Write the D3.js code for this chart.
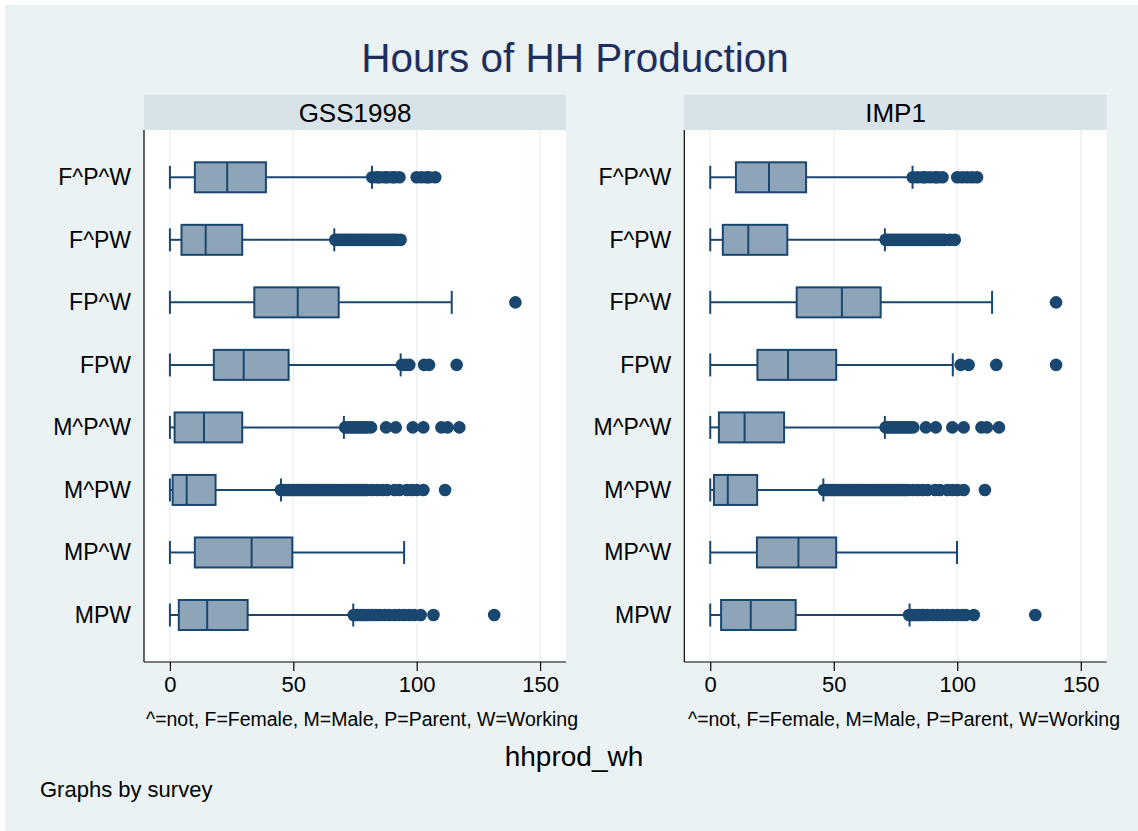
<!DOCTYPE html>
<html>
<head>
<meta charset="utf-8">
<script src="https://cdn.jsdelivr.net/npm/d3@7"></script>
<style>
  body { margin: 0; background: #ffffff; }
  text { font-family: "Liberation Sans", Arial, sans-serif; }
</style>
</head>
<body>
<div class="chart"></div>
<script>
const categories = ["F^P^W", "F^PW", "FP^W", "FPW", "M^P^W", "M^PW", "MP^W", "MPW"];
const surveys = ["GSS1998", "IMP1"];
const xTicks = [0, 50, 100, 150];

// [lower whisker, q1, median, q3, upper whisker]
const gssStats = [
  [0, 10.1, 23.2, 38.9, 81.9],
  [0, 4.7, 14.5, 29.3, 66.6],
  [0, 34.2, 51.8, 68.4, 114.2],
  [0, 17.8, 29.9, 48.1, 93.5],
  [0, 1.9, 13.8, 29.3, 70.5],
  [0, 1.1, 6.8, 18.5, 45],
  [0, 10.1, 33.1, 49.6, 94.9],
  [0, 3.6, 15.1, 31.5, 74.3]
];
const impStats = [
  [0, 10.4, 23.8, 38.8, 81.9],
  [0, 5.1, 15.4, 31.2, 70.7],
  [0, 35, 53.3, 69, 114.1],
  [0, 19.1, 31.5, 51, 98.2],
  [0, 3.5, 13.9, 29.9, 70.7],
  [0, 1.5, 7.1, 19, 45.8],
  [0, 18.9, 35.7, 51, 99.9],
  [0, 4.4, 16.4, 34.6, 80.7]
];

const gssOutliers = [
  [82, 84, 85, 87, 88, 90, 91, 93, 100, 102, 104, 105, 107.5],
  [67, 68, 69, 70, 71, 72, 73, 74, 75, 76, 77, 78, 79, 80, 81, 82, 83, 84, 85, 86, 87, 88, 89, 90, 91, 92, 93.5],
  [140],
  [94, 95.5, 97, 103, 105, 116.2],
  [71, 72, 73, 74, 75, 76, 77, 78, 79, 80, 81.5, 87.6, 91.5, 98.4, 102.7, 110, 112.5, 117.3],
  [45, 46, 47, 48, 49, 50, 51, 52, 53, 54, 55, 56, 57, 58, 59, 60, 61, 62, 63, 64, 65, 66, 67, 68, 69, 70, 71, 72, 73, 74, 75, 76, 77, 78, 79, 80, 82, 84, 86, 88, 91, 93, 96, 98, 100, 102.7, 111.5],
  [],
  [74.5, 75.5, 76.5, 77.5, 78.5, 79.5, 80.5, 82, 83.5, 85, 87, 89, 91, 93, 95, 97, 99, 101.6, 106.8, 131.4]
];
const impOutliers = [
  [82, 84, 86, 87, 89, 91, 92, 94, 100, 102, 104, 106, 108],
  [71, 72, 73, 74, 75, 76, 77, 78, 79, 80, 81, 82, 83, 84, 85, 86, 87, 88, 89, 90, 91, 92, 93, 94, 95, 97, 99],
  [140],
  [101.4, 104.6, 115.8, 140],
  [71, 72, 73, 74, 75, 76, 77, 78, 79, 80, 81, 82.2, 87.3, 91.3, 98, 102.6, 109.8, 112, 116.9],
  [46, 47, 48, 49, 50, 51, 52, 53, 54, 55, 56, 57, 58, 59, 60, 61, 62, 63, 64, 65, 66, 67, 68, 69, 70, 71, 72, 73, 74, 75, 76, 77, 78, 79, 80, 82, 84, 86, 88, 91, 93, 96, 98, 100, 102.6, 111.2],
  [],
  [80.5, 81.5, 82.5, 83.5, 84.5, 85.5, 86.5, 88, 90, 92, 94, 96, 98, 100, 102, 103.4, 106.7, 131.6]
];

const width = 1138,
  height = 831,
  bgColor = "#eaf2f3",
  stripColor = "#d8e3e9",
  navy = "#1a476f",
  boxFill = "#8ea4b9",
  titleColor = "#1e2f5f";

const svg = d3
  .select(".chart")
  .append("svg")
  .attr("width", width)
  .attr("height", height);

svg
  .append("rect")
  .attr("x", 5)
  .attr("y", 5)
  .attr("width", width - 5)
  .attr("height", height - 5)
  .attr("fill", bgColor);

svg
  .append("text")
  .attr("x", 575)
  .attr("y", 72)
  .attr("text-anchor", "middle")
  .style("font-size", "40.5px")
  .attr("fill", titleColor)
  .text("Hours of HH Production");

const panels = [
  { name: surveys[0], stats: gssStats, outliers: gssOutliers, x0: 144, x1: 566, noteX: 362 },
  { name: surveys[1], stats: impStats, outliers: impOutliers, x0: 684.3, x1: 1106.7, noteX: 904 }
];

const stripTop = 95,
  plotTop = 130,
  plotBottom = 662;

const yScale = d3.scalePoint().domain(categories).range([177.3, 615]);

panels.forEach((p) => {
  const xScale = d3.scaleLinear().domain([-10.5, 160.5]).range([p.x0, p.x1]);
  const g = svg.append("g");

  // strip header
  g.append("rect")
    .attr("x", p.x0)
    .attr("y", stripTop)
    .attr("width", p.x1 - p.x0)
    .attr("height", plotTop - stripTop)
    .attr("fill", stripColor);

  g.append("text")
    .attr("x", (p.x0 + p.x1) / 2)
    .attr("y", 121.5)
    .attr("text-anchor", "middle")
    .style("font-size", "26px")
    .attr("fill", "#000")
    .text(p.name);

  // plot region
  g.append("rect")
    .attr("x", p.x0)
    .attr("y", plotTop)
    .attr("width", p.x1 - p.x0)
    .attr("height", plotBottom - plotTop)
    .attr("fill", "#ffffff");

  g.selectAll(".grid")
    .data(xTicks)
    .enter()
    .append("line")
    .attr("x1", (d) => xScale(d))
    .attr("x2", (d) => xScale(d))
    .attr("y1", plotTop)
    .attr("y2", plotBottom)
    .attr("stroke", bgColor)
    .attr("stroke-width", 1.5);

  // x axis
  const xAxis = d3.axisBottom(xScale).tickValues(xTicks).tickSize(9).tickPadding(5);
  const ax = g
    .append("g")
    .attr("transform", `translate(0, ${plotBottom})`)
    .call(xAxis);
  ax.select(".domain").attr("stroke", "#000").attr("stroke-width", 1.2)
    .attr("d", `M${p.x0},0H${p.x1}`);
  ax.selectAll(".tick line").attr("stroke", "#000").attr("stroke-width", 1.2);
  ax.selectAll(".tick text")
    .style("font-size", "22px")
    .style("font-family", "'Liberation Sans', Arial, sans-serif")
    .attr("fill", "#000");

  // y axis (labels only)
  const yAxis = d3.axisLeft(yScale).tickSize(0).tickPadding(13);
  const ay = g
    .append("g")
    .attr("transform", `translate(${p.x0}, 0)`)
    .call(yAxis);
  ay.select(".domain").attr("stroke", "#000").attr("stroke-width", 1.2)
    .attr("d", `M0,${plotTop}V${plotBottom}`);
  ay.selectAll(".tick text")
    .style("font-size", "23px")
    .style("font-family", "'Liberation Sans', Arial, sans-serif")
    .attr("fill", "#000");

  const rows = categories.map((c, i) => ({ cat: c, s: p.stats[i], out: p.outliers[i] }));
  const boxH = 30,
    capH = 23;

  const rg = g
    .selectAll(".row")
    .data(rows)
    .enter()
    .append("g")
    .attr("transform", (d) => `translate(0, ${yScale(d.cat)})`);

  // whiskers
  rg.append("line")
    .attr("x1", (d) => xScale(d.s[0]))
    .attr("x2", (d) => xScale(d.s[1]))
    .attr("stroke", navy)
    .attr("stroke-width", 2);
  rg.append("line")
    .attr("x1", (d) => xScale(d.s[3]))
    .attr("x2", (d) => xScale(d.s[4]))
    .attr("stroke", navy)
    .attr("stroke-width", 2);
  rg.append("line")
    .attr("x1", (d) => xScale(d.s[0]))
    .attr("x2", (d) => xScale(d.s[0]))
    .attr("y1", -capH / 2)
    .attr("y2", capH / 2)
    .attr("stroke", navy)
    .attr("stroke-width", 2);
  rg.append("line")
    .attr("x1", (d) => xScale(d.s[4]))
    .attr("x2", (d) => xScale(d.s[4]))
    .attr("y1", -capH / 2)
    .attr("y2", capH / 2)
    .attr("stroke", navy)
    .attr("stroke-width", 2);

  // boxes
  rg.append("rect")
    .attr("x", (d) => xScale(d.s[1]))
    .attr("y", -boxH / 2)
    .attr("width", (d) => xScale(d.s[3]) - xScale(d.s[1]))
    .attr("height", boxH)
    .attr("fill", boxFill)
    .attr("stroke", navy)
    .attr("stroke-width", 2);
  rg.append("line")
    .attr("x1", (d) => xScale(d.s[2]))
    .attr("x2", (d) => xScale(d.s[2]))
    .attr("y1", -boxH / 2)
    .attr("y2", boxH / 2)
    .attr("stroke", navy)
    .attr("stroke-width", 2);

  // outside values
  rg.selectAll("circle")
    .data((d) => d.out)
    .enter()
    .append("circle")
    .attr("cx", (d) => xScale(d))
    .attr("cy", 0)
    .attr("r", 6.3)
    .attr("fill", navy);

  g.append("text")
    .attr("x", p.noteX)
    .attr("y", 726)
    .attr("text-anchor", "middle")
    .style("font-size", "19.5px")
    .attr("fill", "#000")
    .text("^=not, F=Female, M=Male, P=Parent, W=Working");
});

svg
  .append("text")
  .attr("x", 574)
  .attr("y", 766)
  .attr("text-anchor", "middle")
  .style("font-size", "28px")
  .attr("fill", "#000")
  .text("hhprod_wh");

svg
  .append("text")
  .attr("x", 40)
  .attr("y", 797)
  .style("font-size", "22px")
  .attr("fill", "#000")
  .text("Graphs by survey");
</script>
</body>
</html>
